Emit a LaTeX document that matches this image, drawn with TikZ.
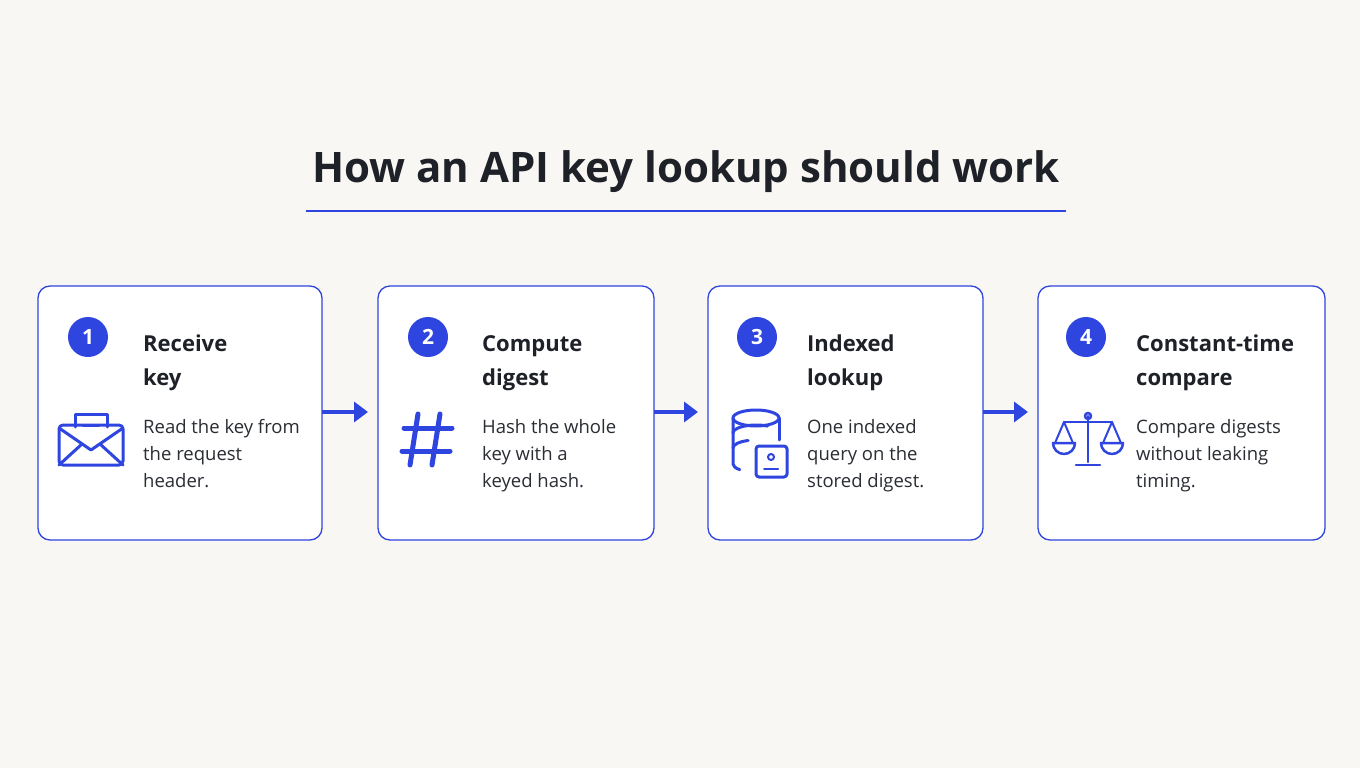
\documentclass[tikz,border=0pt]{standalone}
\usepackage{fontspec}
\setmainfont{Open Sans}
\usetikzlibrary{arrows.meta}
\definecolor{bg}{HTML}{F9F7F3}
\definecolor{bl}{HTML}{2F45E0}
\definecolor{ink}{HTML}{1E2128}
\definecolor{txt}{HTML}{2A2D33}
\begin{document}
\begin{tikzpicture}[x=1pt,y=-1pt,
 box/.style={draw=bl,line width=1.3pt,rounded corners=12pt,fill=white},
 num/.style={circle,fill=bl,minimum size=40pt,inner sep=0,text=white,font=\fontsize{21}{21}\selectfont\bfseries},
 head/.style={anchor=west,align=left,text=ink,font=\fontsize{22}{34}\selectfont\bfseries,inner sep=0},
 body/.style={anchor=north west,align=left,text=txt,font=\fontsize{18.5}{27}\selectfont,inner sep=0},
 arr/.style={draw=bl,line width=4pt,-{Triangle[length=14pt,width=20pt]}},
 ic/.style={draw=bl,line width=3pt,line cap=round,line join=round}]
\fill[bg] (0,0) rectangle (1360,768);
\useasboundingbox (0,0) rectangle (1360,768);
\node[text=ink,font=\fontsize{42}{42}\selectfont\bfseries] (title) at (686,172) {How an API key lookup should work};
\draw[bl,line width=2pt] (306,211) -- (1066,211);
\draw[box] (38,286) rectangle (322,540);
\draw[box] (378,286) rectangle (654,540);
\draw[box] (708,286) rectangle (983,540);
\draw[box] (1038,286) rectangle (1325,540);
\coordinate (b1) at (322,412); \coordinate (b2l) at (368,412);
\coordinate (b2) at (654,412); \coordinate (b3l) at (698,412);
\coordinate (b3) at (983,412); \coordinate (b4l) at (1028,412);
\draw[arr] (b1) -- (b2l);
\draw[arr] (b2) -- (b3l);
\draw[arr] (b3) -- (b4l);
\node[num] (n1) at (88,337) {1};
\node[num] (n2) at (428,337) {2};
\node[num] (n3) at (757,337) {3};
\node[num] (n4) at (1086,337) {4};
\node[head] (h1) at (143,363) {Receive\\key};
\node[head] (h2) at (482,363) {Compute\\digest};
\node[head] (h3) at (807,363) {Indexed\\lookup};
\node[head] (h4) at (1136,363) {Constant-time\\compare};
\node[body] (t1) at (143,419) {Read the key from\\the request\\header.};
\node[body] (t2) at (482,419) {Hash the whole\\key with a\\keyed hash.};
\node[body] (t3) at (807,419) {One indexed\\query on the\\stored digest.};
\node[body] (t4) at (1136,419) {Compare digests\\without leaking\\timing.};
% envelope
\draw[ic,rounded corners=4pt] (59,425) rectangle (123,465);
\draw[ic] (59,428) -- (91,450) -- (123,428);
\draw[ic] (59,465) -- (82,444); \draw[ic] (123,465) -- (100,444);
\draw[ic] (75,427) -- (75,414) -- (107,414) -- (107,427);
\draw[ic] (83,425) -- (99,425);
% hash
\draw[ic,line width=5pt] (418,414) -- (410,465); \draw[ic,line width=5pt] (440,414) -- (432,465);
\draw[ic,line width=5pt] (404,428) -- (452,428); \draw[ic,line width=5pt] (402,451) -- (450,451);
% database
\draw[ic] (756,418) ellipse (23 and 8);
\draw[ic] (733,418) -- (733,464) arc[start angle=180,end angle=135,x radius=23,y radius=8];
\draw[ic] (779,418) -- (779,440);
\draw[ic] (733,433) arc[start angle=180,end angle=300,x radius=23,y radius=8];
\draw[ic] (733,448) arc[start angle=180,end angle=250,x radius=23,y radius=8];
\draw[ic,fill=white,rounded corners=3pt] (756,446) rectangle (787,477);
\draw[ic,line width=2pt] (771,457) circle (3);
\draw[ic,line width=2pt] (764,469) -- (778,469);
% scales
\draw[ic,line width=2.5pt] (1088,416) -- (1088,462);
\draw[ic,line width=2.5pt] (1076,465) -- (1100,465);
\draw[ic,line width=2.5pt] (1064,422) -- (1112,422);
\draw[ic,line width=2.5pt] (1088,416) circle (3);
\draw[ic,line width=2pt] (1064,422) -- (1055,443) (1064,422) -- (1073,443);
\draw[ic,line width=2.5pt] (1053,443) arc[start angle=180,end angle=0,radius=11] -- cycle;
\draw[ic,line width=2pt] (1112,422) -- (1103,443) (1112,422) -- (1121,443);
\draw[ic,line width=2.5pt] (1101,443) arc[start angle=180,end angle=0,radius=11] -- cycle;
\end{tikzpicture}
\end{document}
